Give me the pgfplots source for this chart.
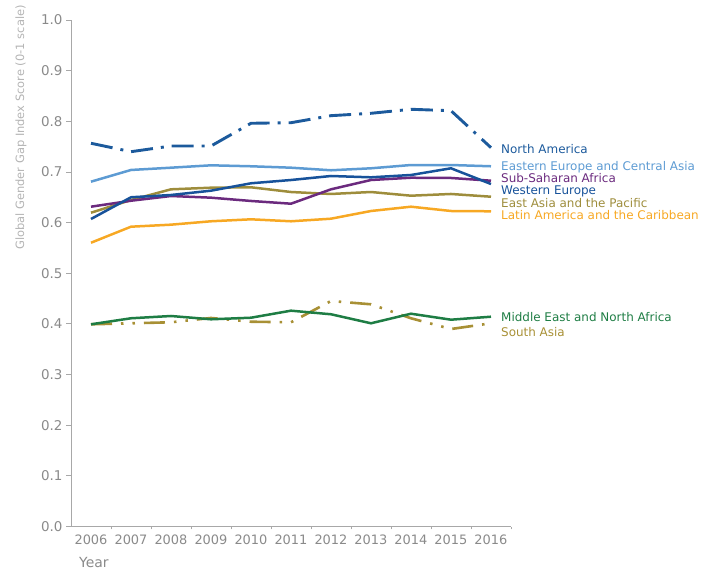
\documentclass[border=0pt]{standalone}
\usepackage{pgfplots}
\pgfplotsset{compat=1.18}
\usepackage{fontspec}
\setmainfont{DejaVu Sans}

\definecolor{cNA}{HTML}{1C5A9C}
\definecolor{cEE}{HTML}{5D9BD3}
\definecolor{cSSA}{HTML}{6B2A7E}
\definecolor{cWE}{HTML}{17529A}
\definecolor{cEA}{HTML}{9E8D3C}
\definecolor{cLA}{HTML}{F7A823}
\definecolor{cME}{HTML}{1E7D44}
\definecolor{cSA}{HTML}{A89035}
\definecolor{axisgray}{HTML}{A8A8A8}
\definecolor{tickgray}{HTML}{8A8A8A}
\definecolor{labelgray}{HTML}{B4B4B4}

\begin{document}
\begin{tikzpicture}[label node/.style={anchor=west, inner sep=0pt, font=\fontsize{12}{14}\selectfont}]
\begin{axis}[
    scale only axis,
    width=440bp, height=506.5bp,
    at={(71bp,44.5bp)}, anchor=south west,
    xmin=2005.5, xmax=2016.5,
    ymin=0, ymax=1,
    axis x line*=bottom, axis y line*=left,
    axis line style={axisgray, line width=0.9pt},
    tick style={axisgray, line width=0.8pt},
    tick align=outside,
    major tick length=5bp,
    minor tick length=3bp,
    xtick={2006,...,2016},
    major x tick style={draw=none},
    minor xtick={2006.5,2007.5,...,2016.5},
    ytick={0,0.1,...,1.0},
    xticklabel={\pgfmathprintnumber[1000 sep={}]{\tick}},
    /pgf/number format/assume math mode=true,
    x tick label style={font=\fontsize{13}{15}\selectfont, text=tickgray},
    y tick label style={font=\fontsize{13.5}{15}\selectfont, text=tickgray,
        /pgf/number format/fixed, /pgf/number format/fixed zerofill,
        /pgf/number format/precision=1},
    ylabel={Global Gender Gap Index Score (0-1 scale)},
    ylabel style={at={(axis description cs:-0.1136,1.0296)}, anchor=east, inner sep=0pt,
        font=\fontsize{11.5}{13}\selectfont, text=labelgray},
    xlabel={Year},
    xlabel style={at={(axis description cs:0.018,-0.0715)}, anchor=west, inner sep=0pt,
        font=\fontsize{14}{16}\selectfont, text=tickgray},
    clip=false,
    every axis plot/.append style={line width=2.5bp, no markers},
]
\addplot[cLA] coordinates {
(2006,0.5603) (2007,0.5919) (2008,0.5959) (2009,0.6026) (2010,0.6065) (2011,0.6026)
(2012,0.6077) (2013,0.6229) (2014,0.6314) (2015,0.6229) (2016,0.6223)};
\addplot[cEA] coordinates {
(2006,0.6195) (2007,0.6446) (2008,0.6657) (2009,0.6689) (2010,0.6697) (2011,0.6604)
(2012,0.6565) (2013,0.6604) (2014,0.6531) (2015,0.6565) (2016,0.6511)};
\addplot[cSSA] coordinates {
(2006,0.6314) (2007,0.6432) (2008,0.6525) (2009,0.6492) (2010,0.6427) (2011,0.6373)
(2012,0.6657) (2013,0.6841) (2014,0.6886) (2015,0.6881) (2016,0.6827)};
\addplot[cEE] coordinates {
(2006,0.6808) (2007,0.7039) (2008,0.7084) (2009,0.7131) (2010,0.7112) (2011,0.7084)
(2012,0.7033) (2013,0.7072) (2014,0.7137) (2015,0.7137) (2016,0.7112)};
\addplot[cWE] coordinates {
(2006,0.6071) (2007,0.6500) (2008,0.6545) (2009,0.6630) (2010,0.6776) (2011,0.6841)
(2012,0.6920) (2013,0.6894) (2014,0.6940) (2015,0.7072) (2016,0.6762)};
\addplot[cNA, line width=2.9bp, dash pattern=on 22bp off 8bp on 3bp off 8bp] coordinates {
(2006,0.7566) (2007,0.7400) (2008,0.7512) (2009,0.7512) (2010,0.7961) (2011,0.7972)
(2012,0.8111) (2013,0.8158) (2014,0.8237) (2015,0.8209) (2016,0.7479)};
\addplot[cSA, line width=2.6bp, dash pattern=on 21bp off 9bp on 2.5bp off 9bp on 2.5bp off 9bp] coordinates {
(2006,0.3992) (2007,0.4012) (2008,0.4032) (2009,0.4117) (2010,0.4043) (2011,0.4032)
(2012,0.4452) (2013,0.4387) (2014,0.4111) (2015,0.3899) (2016,0.4012)};
\addplot[cME] coordinates {
(2006,0.3992) (2007,0.4111) (2008,0.4156) (2009,0.4091) (2010,0.4122) (2011,0.4261)
(2012,0.4190) (2013,0.4012) (2014,0.4201) (2015,0.4083) (2016,0.4142)};

\node[label node, text=cNA]  at (axis cs:2016.25,0.7453) {North America};
\node[label node, text=cEE]  at (axis cs:2016.25,0.7100) {Eastern Europe and Central Asia};
\node[label node, text=cSSA] at (axis cs:2016.25,0.6870) {Sub-Saharan Africa};
\node[label node, text=cWE]  at (axis cs:2016.25,0.6625) {Western Europe};
\node[label node, text=cEA]  at (axis cs:2016.25,0.6381) {East Asia and the Pacific};
\node[label node, text=cLA]  at (axis cs:2016.25,0.6145) {Latin America and the Caribbean};
\node[label node, text=cME]  at (axis cs:2016.25,0.4142) {Middle East and North Africa};
\node[label node, text=cSA]  at (axis cs:2016.25,0.3846) {South Asia};
\end{axis}
\pgfresetboundingbox
\path[use as bounding box] (0,0) rectangle (707bp,571bp);
\end{tikzpicture}
\end{document}
